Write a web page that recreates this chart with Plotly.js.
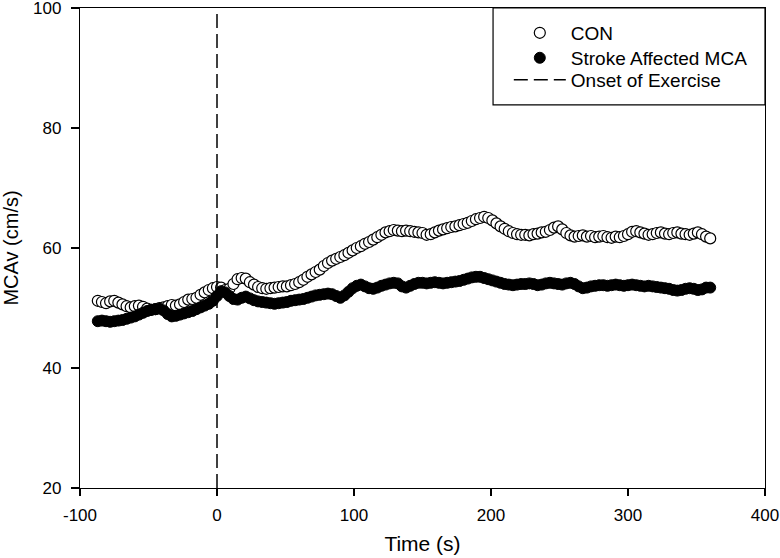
<!DOCTYPE html>
<html>
<head>
<meta charset="utf-8">
<script src="https://cdn.plot.ly/plotly-3.0.1.min.js"></script>
<style>html,body{margin:0;padding:0;background:#fff;}#chart{width:780px;height:558px;}</style>
</head>
<body>
<div id="chart"></div>
<script>
// Time (s)
const timeS = [
  -87,-84,-81,-78,-75,-72,-69,-66,-63,-60,
  -57,-54,-51,-48,-45,-42,-39,-36,-33,-30,
  -27,-24,-21,-18,-15,-12,-9,-6,-3,0,
  3,6,9,12,15,18,21,24,27,30,
  33,36,39,42,45,48,51,54,57,60,
  63,66,69,72,75,78,81,84,87,90,
  93,96,99,102,105,108,111,114,117,120,
  123,126,129,132,135,138,141,144,147,150,
  153,156,159,162,165,168,171,174,177,180,
  183,186,189,192,195,198,201,204,207,210,
  213,216,219,222,225,228,231,234,237,240,
  243,246,249,252,255,258,261,264,267,270,
  273,276,279,282,285,288,291,294,297,300,
  303,306,309,312,315,318,321,324,327,330,
  333,336,339,342,345,348,351,354,357,360
];
// CON MCAv (cm/s)
const conMCAv = [
  51.2,51.0,50.8,51.1,51.2,50.9,50.6,50.3,50.1,50.3,
  50.4,50.2,49.9,49.7,49.8,50.0,50.1,50.3,50.5,50.4,
  50.6,51.0,51.4,51.5,51.7,52.2,52.6,53.0,53.3,53.5,
  53.4,53.0,53.2,54.0,54.8,55.0,54.9,54.3,53.9,53.5,
  53.3,53.2,53.3,53.4,53.5,53.6,53.6,53.8,54.0,54.3,
  54.7,55.2,55.6,56.0,56.4,57.0,57.5,57.9,58.2,58.5,
  58.8,59.2,59.6,60.0,60.3,60.7,61.0,61.4,61.8,62.2,
  62.6,62.8,63.0,62.9,62.8,62.9,62.8,62.7,62.6,62.5,
  62.2,62.3,62.6,62.9,63.1,63.3,63.5,63.6,63.8,64.0,
  64.2,64.5,64.8,65.0,65.2,65.0,64.6,64.1,63.6,63.2,
  62.8,62.5,62.3,62.2,62.2,62.1,62.3,62.4,62.6,62.7,
  63.0,63.4,63.6,63.1,62.5,62.1,61.9,62.0,62.1,61.9,
  62.0,61.8,61.9,62.0,61.8,61.7,61.9,61.8,62.0,62.3,
  62.7,62.8,62.6,62.4,62.2,62.3,62.5,62.6,62.4,62.3,
  62.5,62.6,62.4,62.3,62.2,62.4,62.6,62.3,61.9,61.6
];
// Stroke affected MCA MCAv (cm/s)
const strokeMCAv = [
  47.8,47.9,47.8,47.7,47.8,47.9,48.0,48.2,48.4,48.6,
  48.9,49.2,49.5,49.7,49.8,49.9,49.6,49.0,48.6,48.7,
  48.9,49.1,49.3,49.5,49.8,50.1,50.4,50.7,51.2,52.0,
  52.8,52.6,52.0,51.5,51.4,51.7,51.9,51.6,51.3,51.1,
  51.0,50.9,50.8,50.7,50.8,50.9,51.0,51.2,51.3,51.4,
  51.5,51.7,51.9,52.1,52.2,52.3,52.4,52.3,52.0,51.7,
  52.1,52.7,53.3,53.7,53.9,53.6,53.3,53.2,53.4,53.7,
  53.9,54.1,54.2,54.1,53.6,53.4,53.7,54.0,54.2,54.2,
  54.1,54.2,54.3,54.2,54.1,54.2,54.3,54.4,54.5,54.7,
  54.9,55.1,55.2,55.2,55.0,54.8,54.6,54.4,54.2,54.0,
  53.9,53.8,53.9,54.0,54.0,54.1,54.0,53.8,53.9,54.1,
  54.2,54.1,54.0,53.9,54.1,54.2,54.0,53.6,53.3,53.4,
  53.6,53.7,53.8,53.8,53.7,53.8,53.9,53.8,53.7,53.8,
  53.9,53.8,53.7,53.6,53.7,53.6,53.5,53.4,53.3,53.2,
  53.0,52.9,53.0,53.2,53.3,53.2,53.0,53.1,53.4,53.4
];
const onsetX = [0, 0];
const onsetY = [20, 100];
const seriesNames = ["CON", "Stroke Affected MCA", "Onset of Exercise"];
const xTicks = [-100, 0, 100, 200, 300, 400];
const yTicks = [20, 40, 60, 80, 100];

const font = "Liberation Sans, Arial, sans-serif";

const traces = [
  {
    x: timeS, y: conMCAv, name: seriesNames[0], type: "scatter", mode: "markers",
    legend: "legend",
    marker: {symbol: "circle", size: 11, color: "#ffffff", line: {color: "#000000", width: 1.2}}
  },
  {
    x: timeS, y: strokeMCAv, name: seriesNames[1], type: "scatter", mode: "markers",
    legend: "legend2",
    marker: {symbol: "circle", size: 11, color: "#000000", line: {color: "#000000", width: 1}}
  },
  {
    x: onsetX, y: onsetY, name: seriesNames[2], type: "scatter", mode: "lines",
    legend: "legend3",
    line: {color: "#000000", width: 1.5, dash: "14px,6px"}
  }
];

function legendAt(yPaper) {
  return {
    x: 0.626, y: yPaper, xanchor: "left", yanchor: "middle",
    bgcolor: "rgba(0,0,0,0)", borderwidth: 0,
    font: {family: font, size: 19, color: "#000000"},
    itemwidth: 52, itemsizing: "trace"
  };
}

const layout = {
  width: 780, height: 558,
  margin: {l: 80, r: 15, t: 8, b: 70},
  paper_bgcolor: "#ffffff", plot_bgcolor: "#ffffff",
  font: {family: font, color: "#000000", size: 17},
  showlegend: true,
  legend: legendAt(0.948),
  legend2: legendAt(0.896),
  legend3: legendAt(0.850),
  shapes: [{
    type: "rect", xref: "paper", yref: "paper",
    x0: 0.603, x1: 1, y0: 0.798, y1: 1,
    line: {color: "#000000", width: 1.2}, fillcolor: "rgba(0,0,0,0)", layer: "above"
  }],
  xaxis: {
    range: [-100, 400], tickvals: xTicks, ticktext: xTicks.map(String),
    ticks: "outside", ticklen: 7, tickwidth: 1.2, tickcolor: "#000",
    showline: true, linecolor: "#000", linewidth: 1.2, mirror: true,
    showgrid: false, zeroline: false, ticklabelstandoff: 4, ticklabeloverflow: "allow",
    tickfont: {family: font, size: 17},
    title: {text: "Time (s)", font: {family: font, size: 21}, standoff: 12}
  },
  yaxis: {
    range: [20, 100], tickvals: yTicks, ticktext: yTicks.map(String),
    ticks: "outside", ticklen: 8, tickwidth: 1.2, tickcolor: "#000",
    showline: true, linecolor: "#000", linewidth: 1.2, mirror: true,
    showgrid: false, zeroline: false, ticklabelstandoff: 6, ticklabeloverflow: "allow",
    tickfont: {family: font, size: 17},
    title: {text: "MCAv (cm/s)", font: {family: font, size: 20}, standoff: 18}
  }
};

Plotly.newPlot("chart", traces, layout, {displayModeBar: false, staticPlot: true});
</script>
</body>
</html>
